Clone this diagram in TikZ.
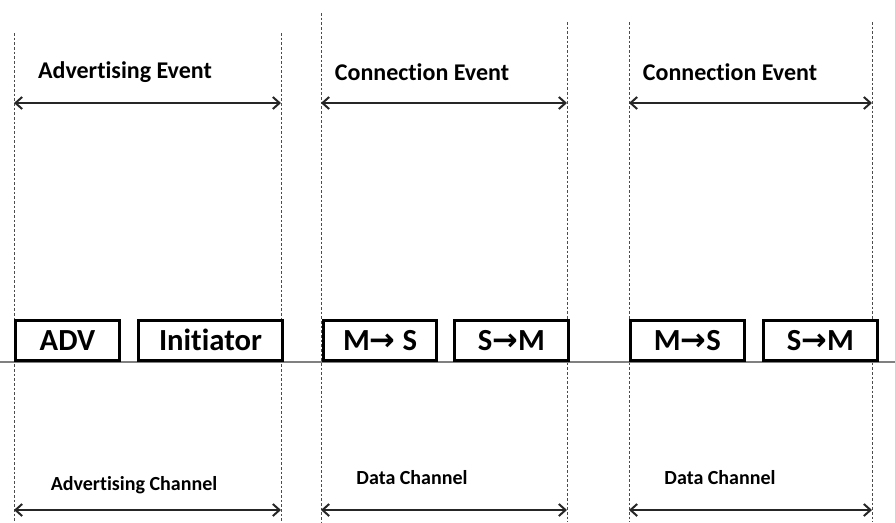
\documentclass[tikz,border=0pt]{standalone}
\usepackage{fontspec}
\setmainfont{Carlito}[Ligatures=NoCommon]
\newfontfamily\arrowfont{DejaVu Sans}
\usetikzlibrary{positioning,arrows.meta}

\begin{document}
\begin{tikzpicture}[x=0.75pt,y=-0.75pt]
\tikzstyle{guide}=[densely dashed, dash pattern=on 2pt off 1.5pt, gray!60!black, line width=0.7pt]
\tikzstyle{span}=[{Straight Barb[length=5pt,width=9pt]}-{Straight Barb[length=5pt,width=9pt]}, line width=1.5pt, black!85]
\tikzstyle{pkt}=[draw, fill=white, line width=2.2pt, anchor=south west, minimum height=30pt, inner sep=0pt, text height=15pt, text depth=0pt, font=\bfseries\fontsize{23}{25}\selectfont]
\tikzstyle{evlabel}=[font=\bfseries\fontsize{18}{20}\selectfont]
\tikzstyle{chlabel}=[font=\bfseries\fontsize{15}{17}\selectfont]
\useasboundingbox (0,0) rectangle (895,522);

% event borders
\foreach \x/\top in {14/33,281/33,321/13,567/22,629/22,872/22} {
	\coordinate (t\x) at (\x,\top);
	\coordinate (b\x) at (\x,522);
	\draw[guide] (t\x) -- (b\x);
}

% time axis
\coordinate (axl) at (0,362);
\coordinate (axr) at (895,362);
\draw[gray, line width=0.8pt] (axl) -- (axr);

% packets
\node[pkt, minimum width=78pt] (adv) at (14,362) {ADV};
\node[pkt, minimum width=108pt] (init) at (137,362) {Initiator};
\node[pkt, minimum width=85pt] (ms1) at (322,362) {M{\arrowfont→} S};
\node[pkt, minimum width=85.5pt] (sm1) at (453,362) {S{\arrowfont→}M};
\node[pkt, minimum width=85.5pt] (ms2) at (629,362) {M{\arrowfont→}S};
\node[pkt, minimum width=85.5pt] (sm2) at (762,362) {S{\arrowfont→}M};

% event spans
\foreach \l/\r in {14/281,321/567,629/872} {
	\coordinate (el\l) at (\l,103);
	\coordinate (er\l) at (\r,103);
	\draw[span] (el\l) -- (er\l);
	\coordinate (cl\l) at (\l,510);
	\coordinate (cr\l) at (\r,510);
	\draw[span] (cl\l) -- (cr\l);
}

\node[evlabel] (advev) at (125,72) {Advertising Event};
\node[evlabel] (conev1) at (422,72) {Connection Event};
\node[evlabel] (conev2) at (730,72) {Connection Event};

\node[chlabel] (advch) at (134,485) {Advertising Channel};
\node[chlabel] (datch1) at (412,478) {Data Channel};
\node[chlabel] (datch2) at (720,478) {Data Channel};
\end{tikzpicture}
\end{document}
